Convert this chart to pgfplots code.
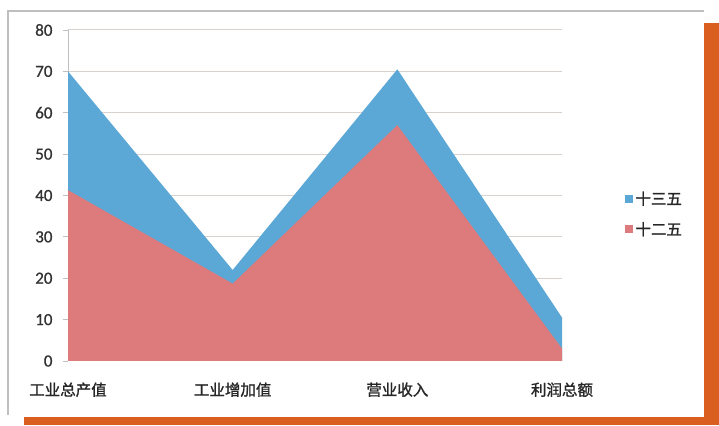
\documentclass[border=0pt]{standalone}
\usepackage{fontspec}
\setmainfont{Carlito}
\newfontfamily\cjk[FakeBold=1.2]{Noto Sans CJK SC}
\newfontfamily\num[FakeBold=0.8]{Carlito}
\usepackage{pgfplots}
\pgfplotsset{compat=1.18}
\definecolor{blueA}{RGB}{91,167,214}
\definecolor{redA}{RGB}{221,122,124}
\definecolor{orangeA}{RGB}{217,94,32}
\definecolor{gridc}{RGB}{216,210,206}
\begin{document}
\begin{tikzpicture}[x=1pt,y=1pt]
\useasboundingbox (0,0) rectangle (719,425);
\fill[white] (0,0) rectangle (719,425);
% frame and orange border
\draw[black!25, line width=1.2pt] (8,10) -- (8,414) -- (704,414);
\fill[orangeA] (704,0) rectangle (719,402);
\fill[orangeA] (24,0) rectangle (719,8);
\begin{axis}[
  at={(68pt,64pt)}, anchor=south west,
  scale only axis, width=494pt, height=331pt,
  xmin=0, xmax=3, ymin=0, ymax=80,
  axis lines*=left,
  x axis line style={draw=gridc, line width=1pt},
  y axis line style={draw=black!25, line width=1pt},
  xtick={0,1,2,3},
  xticklabels={工业总产值,工业增加值,营业收入,利润总额},
  xticklabel style={font=\cjk\fontsize{15.5}{15.5}\selectfont, text=black!85, yshift=-13pt},
  major x tick style={draw=none},
  ytick={0,10,...,80},
  tick align=outside,
  major tick length=5pt,
  major y tick style={draw=black!25, line width=0.8pt},
  yticklabel style={font=\num\fontsize{17}{17}\selectfont, text=black!80, xshift=-7pt},
  /pgf/number format/assume math mode=true,
  ymajorgrids,
  grid style={draw=gridc, line width=1pt},
  legend style={at={(1.122,0.444)}, anchor=west, draw=none, fill=none,
    font=\cjk\fontsize{15.5}{15.5}\selectfont, text=black!85, row sep=12pt},
  legend cell align=left,
  legend image code/.code={\fill[#1] (0pt,-4pt) rectangle (8pt,4pt);},
]
\addplot[fill=blueA, draw=none] coordinates {(0,70) (1,22) (2,70.5) (3,10.5)} \closedcycle;
\addplot[fill=redA, draw=none] coordinates {(0,41.3) (1,18.7) (2,57) (3,3)} \closedcycle;
\legend{十三五,十二五}
\end{axis}
\end{tikzpicture}
\end{document}
